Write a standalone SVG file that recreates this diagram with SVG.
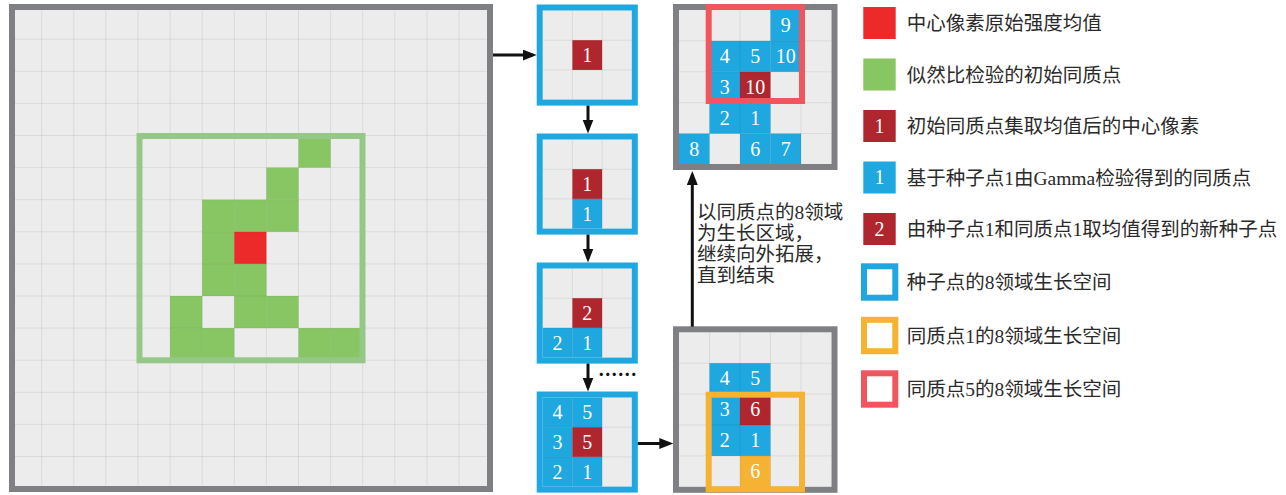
<svg xmlns="http://www.w3.org/2000/svg" width="1286" height="495" viewBox="0 0 1286 495">
  <defs>
    <style>
      .bg { fill: #ececec; }
      .gl { fill: none; stroke: #000; stroke-opacity: 0.075; stroke-width: 1; }
      .gr { fill: #88c663; }
      .rd { fill: #ed2a2a; }
      .dr { fill: #b0262e; }
      .bl { fill: #1fa7df; }
      .or { fill: #f6b333; }
      .border { fill: none; stroke: #7f8083; stroke-width: 6; }
      .fblue { fill: none; stroke: #1fa7df; stroke-width: 6; }
      .forange { fill: none; stroke: #f6b333; stroke-width: 6; }
      .fpink { fill: none; stroke: #ef565d; stroke-width: 6; }
      .fgreen { fill: none; stroke: #95c888; stroke-width: 6; }
      .num { font-family: 'Liberation Serif', serif; font-size: 20px; fill: #ffffff; text-anchor: middle; }
      .lbl { font-family: 'Liberation Serif', 'Noto Sans CJK SC', serif; font-size: 19.5px; fill: #2a2a2a; }
      .arr { fill: none; stroke: #111; stroke-width: 3; }
    </style>
    <marker id="ah" markerUnits="userSpaceOnUse" markerWidth="15" markerHeight="12" refX="10" refY="5.5" orient="auto">
      <path d="M0,0 L14,5.5 L0,11 Z" fill="#111"/>
    </marker>
  </defs>

  <!-- large 15x15 image grid -->
  <g id="image-grid">
    <rect class="bg" x="12" y="7" width="478" height="482"/>
    <rect class="gr" x="298.5" y="135.5" width="32.1" height="32.1"/>
    <rect class="gr" x="266.4" y="167.6" width="32.1" height="32.1"/>
    <rect class="gr" x="202.2" y="199.7" width="32.1" height="32.1"/>
    <rect class="gr" x="234.3" y="199.7" width="32.1" height="32.1"/>
    <rect class="gr" x="266.4" y="199.7" width="32.1" height="32.1"/>
    <rect class="gr" x="202.2" y="231.8" width="32.1" height="32.1"/>
    <rect class="rd" x="234.3" y="231.8" width="32.1" height="32.1"/>
    <rect class="gr" x="202.2" y="263.9" width="32.1" height="32.1"/>
    <rect class="gr" x="234.3" y="263.9" width="32.1" height="32.1"/>
    <rect class="gr" x="170.1" y="296.0" width="32.1" height="32.1"/>
    <rect class="gr" x="234.3" y="296.0" width="32.1" height="32.1"/>
    <rect class="gr" x="266.4" y="296.0" width="32.1" height="32.1"/>
    <rect class="gr" x="170.1" y="328.1" width="32.1" height="32.1"/>
    <rect class="gr" x="202.2" y="328.1" width="32.1" height="32.1"/>
    <rect class="gr" x="298.5" y="328.1" width="32.1" height="32.1"/>
    <rect class="gr" x="330.6" y="328.1" width="32.1" height="32.1"/>
    <path class="gl" d="M41.7,10V486M73.8,10V486M105.9,10V486M138,10V486M170.1,10V486M202.2,10V486M234.3,10V486M266.4,10V486M298.5,10V486M330.6,10V486M362.7,10V486M394.8,10V486M426.9,10V486M459,10V486
      M15,39.2H487M15,71.3H487M15,103.4H487M15,135.5H487M15,167.6H487M15,199.7H487M15,231.8H487M15,263.9H487M15,296H487M15,328.1H487M15,360.2H487M15,392.3H487M15,424.4H487M15,456.5H487"/>
    <rect class="fgreen" x="139.5" y="136" width="223" height="224.3"/>
    <rect class="border" x="12" y="7" width="478" height="482"/>
  </g>

  <!-- step 1: seed point -->
  <g id="step1" transform="translate(542.7,10.5)">
    <rect class="bg" x="0" y="0" width="89.1" height="89.1"/>
    <rect class="dr" x="29.7" y="29.7" width="29.7" height="29.7"/>
    <path class="gl" d="M29.7,0V89.1M59.4,0V89.1M0,29.7H89.1M0,59.4H89.1"/>
    <text class="num" x="44.55" y="51.3">1</text>
    <rect class="fblue" x="-3" y="-3" width="95.1" height="95.1"/>
  </g>

  <!-- step 2 -->
  <g id="step2" transform="translate(542.7,139.5)">
    <rect class="bg" x="0" y="0" width="89.1" height="89.1"/>
    <rect class="dr" x="29.7" y="29.7" width="29.7" height="29.7"/>
    <rect class="bl" x="29.7" y="59.4" width="29.7" height="29.7"/>
    <path class="gl" d="M29.7,0V89.1M59.4,0V89.1M0,29.7H89.1M0,59.4H89.1"/>
    <text class="num" x="44.55" y="51.3">1</text>
    <text class="num" x="44.55" y="81">1</text>
    <rect class="fblue" x="-3" y="-3" width="95.1" height="95.1"/>
  </g>

  <!-- step 3 -->
  <g id="step3" transform="translate(542.7,268.5)">
    <rect class="bg" x="0" y="0" width="89.1" height="89.1"/>
    <rect class="dr" x="29.7" y="29.7" width="29.7" height="29.7"/>
    <rect class="bl" x="0" y="59.4" width="29.7" height="29.7"/>
    <rect class="bl" x="29.7" y="59.4" width="29.7" height="29.7"/>
    <path class="gl" d="M29.7,0V89.1M59.4,0V89.1M0,29.7H89.1M0,59.4H89.1"/>
    <text class="num" x="44.55" y="51.3">2</text>
    <text class="num" x="14.85" y="81">2</text>
    <text class="num" x="44.55" y="81">1</text>
    <rect class="fblue" x="-3" y="-3" width="95.1" height="95.1"/>
  </g>

  <!-- step 4 -->
  <g id="step4" transform="translate(542.7,397.5)">
    <rect class="bg" x="0" y="0" width="89.1" height="89.1"/>
    <rect class="bl" x="0" y="0" width="29.7" height="29.7"/>
    <rect class="bl" x="29.7" y="0" width="29.7" height="29.7"/>
    <rect class="bl" x="0" y="29.7" width="29.7" height="29.7"/>
    <rect class="dr" x="29.7" y="29.7" width="29.7" height="29.7"/>
    <rect class="bl" x="0" y="59.4" width="29.7" height="29.7"/>
    <rect class="bl" x="29.7" y="59.4" width="29.7" height="29.7"/>
    <path class="gl" d="M29.7,0V89.1M59.4,0V89.1M0,29.7H89.1M0,59.4H89.1"/>
    <text class="num" x="14.85" y="21.6">4</text>
    <text class="num" x="44.55" y="21.6">5</text>
    <text class="num" x="14.85" y="51.3">3</text>
    <text class="num" x="44.55" y="51.3">5</text>
    <text class="num" x="14.85" y="81">2</text>
    <text class="num" x="44.55" y="81">1</text>
    <rect class="fblue" x="-3" y="-3" width="95.1" height="95.1"/>
  </g>

  <!-- growth around homogeneous point 1 -->
  <g id="growth-lower" transform="translate(679,332.3)">
    <rect class="bg" x="0" y="0" width="152.5" height="154.5"/>
    <rect class="bl" x="30.5" y="30.9" width="30.5" height="30.9"/>
    <rect class="bl" x="61" y="30.9" width="30.5" height="30.9"/>
    <rect class="bl" x="30.5" y="61.8" width="30.5" height="30.9"/>
    <rect class="dr" x="61" y="61.8" width="30.5" height="30.9"/>
    <rect class="bl" x="30.5" y="92.7" width="30.5" height="30.9"/>
    <rect class="bl" x="61" y="92.7" width="30.5" height="30.9"/>
    <rect class="or" x="61" y="123.6" width="30.5" height="30.9"/>
    <path class="gl" d="M30.5,0V154.5M61,0V154.5M91.5,0V154.5M122,0V154.5M0,30.9H152.5M0,61.8H152.5M0,92.7H152.5M0,123.6H152.5"/>
    <text class="num" x="45.75" y="53.2">4</text>
    <text class="num" x="76.25" y="53.2">5</text>
    <text class="num" x="45.75" y="84.1">3</text>
    <text class="num" x="76.25" y="84.1">6</text>
    <text class="num" x="45.75" y="115">2</text>
    <text class="num" x="76.25" y="115">1</text>
    <text class="num" x="76.25" y="145.9">6</text>
    <rect class="border" x="-3" y="-3" width="158.5" height="160.5"/>
    <rect class="forange" x="29.7" y="62.4" width="93.3" height="94.6"/>
  </g>

  <!-- growth around homogeneous point 5 -->
  <g id="growth-upper" transform="translate(679,10)">
    <rect class="bg" x="0" y="0" width="152.5" height="154.5"/>
    <rect class="bl" x="91.5" y="0" width="30.5" height="30.9"/>
    <rect class="bl" x="30.5" y="30.9" width="30.5" height="30.9"/>
    <rect class="bl" x="61" y="30.9" width="30.5" height="30.9"/>
    <rect class="bl" x="91.5" y="30.9" width="30.5" height="30.9"/>
    <rect class="bl" x="30.5" y="61.8" width="30.5" height="30.9"/>
    <rect class="dr" x="61" y="61.8" width="30.5" height="30.9"/>
    <rect class="bl" x="30.5" y="92.7" width="30.5" height="30.9"/>
    <rect class="bl" x="61" y="92.7" width="30.5" height="30.9"/>
    <rect class="bl" x="0" y="123.6" width="30.5" height="30.9"/>
    <rect class="bl" x="61" y="123.6" width="30.5" height="30.9"/>
    <rect class="bl" x="91.5" y="123.6" width="30.5" height="30.9"/>
    <path class="gl" d="M30.5,0V154.5M61,0V154.5M91.5,0V154.5M122,0V154.5M0,30.9H152.5M0,61.8H152.5M0,92.7H152.5M0,123.6H152.5"/>
    <text class="num" x="106.75" y="22.3">9</text>
    <text class="num" x="45.75" y="53.2">4</text>
    <text class="num" x="76.25" y="53.2">5</text>
    <text class="num" x="106.75" y="53.2">10</text>
    <text class="num" x="45.75" y="84.1">3</text>
    <text class="num" x="76.25" y="84.1">10</text>
    <text class="num" x="45.75" y="115">2</text>
    <text class="num" x="76.25" y="115">1</text>
    <text class="num" x="15.25" y="145.9">8</text>
    <text class="num" x="76.25" y="145.9">6</text>
    <text class="num" x="106.75" y="145.9">7</text>
    <rect class="border" x="-3" y="-3" width="158.5" height="160"/>
    <rect class="fpink" x="29.7" y="-3" width="93.3" height="94"/>
  </g>

  <!-- connectors -->
  <g id="connectors">
    <line class="arr" x1="493" y1="55" x2="532.7" y2="55" marker-end="url(#ah)"/>
    <line class="arr" x1="588" y1="105.6" x2="588" y2="129.5" marker-end="url(#ah)"/>
    <line class="arr" x1="588" y1="234.6" x2="588" y2="258.5" marker-end="url(#ah)"/>
    <line class="arr" x1="588" y1="363.6" x2="588" y2="387.5" marker-end="url(#ah)"/>
    <line class="arr" x1="637.8" y1="443.5" x2="669.3" y2="443.5" marker-end="url(#ah)"/>
    <line class="arr" x1="692.3" y1="326.7" x2="692.3" y2="175" marker-end="url(#ah)"/>
    <text x="598" y="382" style="font-family:'Noto Sans CJK SC',sans-serif;font-size:19.5px;font-weight:bold;fill:#111">……</text>
    <text class="lbl">
      <tspan x="697" y="219">以同质点的8领域</tspan>
      <tspan x="697" y="240">为生长区域，</tspan>
      <tspan x="697" y="261">继续向外拓展，</tspan>
      <tspan x="697" y="282">直到结束</tspan>
    </text>
  </g>

  <!-- legend -->
  <g id="legend-red">
    <rect class="rd" x="863.3" y="7" width="32.4" height="32"/>
    <text class="lbl" x="906.7" y="30.4">中心像素原始强度均值</text>
  </g>
  <g id="legend-green">
    <rect class="gr" x="863.3" y="58.5" width="32.4" height="32"/>
    <text class="lbl" x="906.7" y="81.9">似然比检验的初始同质点</text>
  </g>
  <g id="legend-center">
    <rect class="dr" x="863.3" y="110" width="32.4" height="32"/>
    <text class="num" x="879.5" y="132.8">1</text>
    <text class="lbl" x="906.7" y="133.4">初始同质点集取均值后的中心像素</text>
  </g>
  <g id="legend-homog">
    <rect class="bl" x="863.3" y="161.5" width="32.4" height="32"/>
    <text class="num" x="879.5" y="184.3">1</text>
    <text class="lbl" x="906.7" y="184.9">基于种子点1由Gamma检验得到的同质点</text>
  </g>
  <g id="legend-newseed">
    <rect class="dr" x="863.3" y="213" width="32.4" height="32"/>
    <text class="num" x="879.5" y="235.8">2</text>
    <text class="lbl" x="906.7" y="236.4">由种子点1和同质点1取均值得到的新种子点</text>
  </g>
  <g id="legend-seed-space">
    <rect class="fblue" x="864" y="266.3" width="31.3" height="31.4"/>
    <text class="lbl" x="906.7" y="289.4">种子点的8领域生长空间</text>
  </g>
  <g id="legend-p1-space">
    <rect class="forange" x="864" y="319.8" width="31.3" height="31.4"/>
    <text class="lbl" x="906.7" y="342.9">同质点1的8领域生长空间</text>
  </g>
  <g id="legend-p5-space">
    <rect class="fpink" x="864" y="373.3" width="31.3" height="31.4"/>
    <text class="lbl" x="906.7" y="396.4">同质点5的8领域生长空间</text>
  </g>
</svg>
